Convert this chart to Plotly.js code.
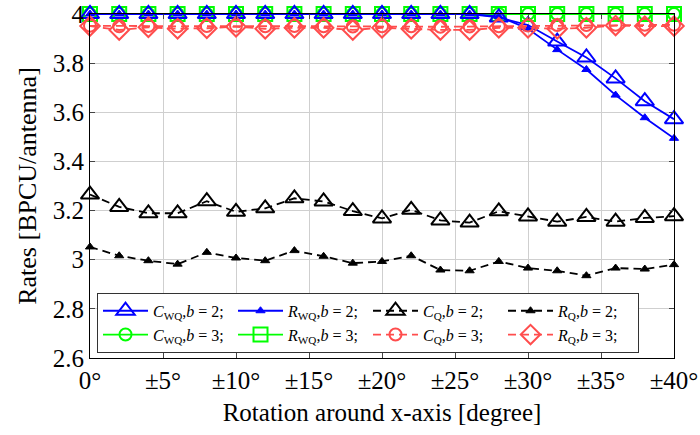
<!DOCTYPE html>
<html>
<head>
<meta charset="utf-8">
<script src="https://cdn.plot.ly/plotly-3.0.1.min.js"></script>
<style>html,body{margin:0;padding:0;background:#fff;}#chart{width:700px;height:435px;}</style>
</head>
<body>
<div id="chart"></div>
<script>
// Rotation angles (degrees)
const angles = [0,2,4,6,8,10,12,14,16,18,20,22,24,26,28,30,32,34,36,38,40];
const tickVals = [0,5,10,15,20,25,30,35,40];
const tickText = ['0°','±5°','±10°','±15°','±20°','±25°','±30°','±35°','±40°'];
const yTickVals = [2.6,2.8,3.0,3.2,3.4,3.6,3.8,4.0];
const yTickText = ['2.6','2.8','3','3.2','3.4','3.6','3.8','4'];

// Series values
const cWQ_b2 = [4,4,4,4,4,4,4,4,4,4,4,4,4,4,3.986,3.955,3.888,3.823,3.738,3.645,3.572];
const rWQ_b2 = [4,4,4,4,4,4,4,4,4,4,4,4,4,4,3.99,3.94,3.855,3.774,3.67,3.578,3.494];
const cQ_b2  = [3.265,3.215,3.189,3.189,3.238,3.195,3.209,3.25,3.237,3.198,3.168,3.203,3.16,3.151,3.197,3.176,3.155,3.174,3.155,3.17,3.177];
const rQ_b2  = [3.052,3.016,2.996,2.982,3.03,3.007,2.996,3.037,3.014,2.986,2.993,3.016,2.958,2.955,2.993,2.966,2.955,2.935,2.966,2.962,2.98];
const cWQ_b3 = [4,4,4,4,4,4,4,4,4,4,4,4,4,4,4,4,4,4,4,4,4];
const rWQ_b3 = [4,4,4,4,4,4,4,4,4,4,4,4,4,4,4,4,4,4,4,4,4];
const cQ_b3  = [3.952,3.950,3.951,3.950,3.951,3.952,3.950,3.951,3.950,3.949,3.950,3.950,3.948,3.949,3.950,3.953,3.955,3.955,3.956,3.956,3.956];
const rQ_b3  = [3.951,3.935,3.946,3.940,3.942,3.948,3.940,3.944,3.944,3.935,3.944,3.940,3.935,3.935,3.944,3.944,3.940,3.944,3.953,3.951,3.951];

const blue = '#0000ff', green = '#00ff00', black = '#000000', red = '#ff4d4d';
function name(base, subs, b) {
  return '<i>' + base + '</i><sub>' + subs + '</sub>,<i>b</i> = ' + b + ';';
}

const traces = [
  {y: cWQ_b3, name: name('C','WQ',3), rank: 5, line: {color: green, width: 1.8},
   marker: {symbol: 'circle-open', size: 12, color: green, line: {width: 2, color: green}}},
  {y: rWQ_b3, name: name('R','WQ',3), rank: 6, line: {color: green, width: 1.8},
   marker: {symbol: 'square-open', size: 14, color: green, line: {width: 2, color: green}}},
  {y: cWQ_b2, name: name('C','WQ',2), rank: 1, line: {color: blue, width: 1.8},
   marker: {symbol: 'triangle-up-open', size: 16, color: blue, line: {width: 2, color: blue}}},
  {y: rWQ_b2, name: name('R','WQ',2), rank: 2, line: {color: blue, width: 1.8},
   marker: {symbol: 'triangle-up', size: 8, color: blue, line: {width: 1, color: blue}}},
  {y: cQ_b2, name: name('C','Q',2), rank: 3, line: {color: black, width: 1.8, dash: '8px,5px'},
   marker: {symbol: 'triangle-up-open', size: 16, color: black, line: {width: 2, color: black}}},
  {y: rQ_b2, name: name('R','Q',2), rank: 4, line: {color: black, width: 1.8, dash: '8px,5px'},
   marker: {symbol: 'triangle-up', size: 8, color: black, line: {width: 1, color: black}}},
  {y: cQ_b3, name: name('C','Q',3), rank: 7, line: {color: red, width: 1.8, dash: '8px,5px'},
   marker: {symbol: 'circle-open', size: 12, color: red, line: {width: 2, color: red}}},
  {y: rQ_b3, name: name('R','Q',3), rank: 8, line: {color: red, width: 1.8, dash: '8px,5px'},
   marker: {symbol: 'diamond-open', size: 15, color: red, line: {width: 2, color: red}}}
].map(t => ({
  type: 'scatter', mode: 'lines+markers', x: angles, y: t.y, name: t.name,
  legendrank: t.rank, line: t.line, marker: t.marker, cliponaxis: false
}));

const font = 'Liberation Serif, Times New Roman, serif';
const layout = {
  width: 700, height: 435,
  margin: {l: 90, r: 26, t: 14, b: 77},
  paper_bgcolor: '#fff', plot_bgcolor: '#fff',
  font: {family: font, color: '#000', size: 25},
  showlegend: true,
  legend: {
    orientation: 'h', x: 0.012, xanchor: 'left', y: 0.015, yanchor: 'bottom',
    bgcolor: '#fff', bordercolor: '#333', borderwidth: 1,
    font: {family: font, size: 16, color: '#000'},
    itemwidth: 45, entrywidth: 75, traceorder: 'normal', itemsizing: 'trace'
  },
  xaxis: {
    range: [0, 40], tickmode: 'array', tickvals: tickVals, ticktext: tickText,
    showgrid: true, gridcolor: '#cfcfcf', gridwidth: 1,
    showline: true, linecolor: '#000', linewidth: 1, mirror: 'all',
    ticks: 'inside', ticklen: 5, tickcolor: '#444', zeroline: false,
    tickfont: {family: font, size: 25},
    title: {text: 'Rotation around x-axis [degree]', font: {family: font, size: 25}, standoff: 10}
  },
  yaxis: {
    range: [2.6, 4.0], tickmode: 'array', tickvals: yTickVals, ticktext: yTickText,
    showgrid: true, gridcolor: '#cfcfcf', gridwidth: 1,
    showline: true, linecolor: '#000', linewidth: 1, mirror: 'all',
    ticks: 'inside', ticklen: 5, tickcolor: '#444', zeroline: false,
    tickfont: {family: font, size: 25},
    title: {text: 'Rates [BPCU/antenna]', font: {family: font, size: 26}, standoff: 8}
  }
};

Plotly.newPlot('chart', traces, layout, {displayModeBar: false, staticPlot: true});
</script>
</body>
</html>
